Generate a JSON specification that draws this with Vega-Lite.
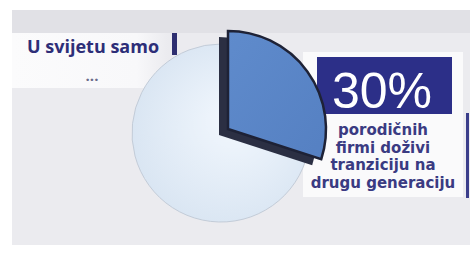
{
  "$schema": "https://vega.github.io/schema/vega-lite/v6.json",
  "width": 470,
  "height": 254,
  "padding": 0,
  "autosize": "none",
  "background": "#ffffff",
  "config": {"view": {"stroke": null}},
  "data": {"values": [
    {"part": "tranzicija na drugu generaciju", "share": 30},
    {"part": "ostale firme", "share": 70}
  ]},
  "layer": [
    {
      "data": {"values": [{}]},
      "mark": {"type": "rect", "color": "#ebebef"},
      "encoding": {"x": {"value": 12}, "x2": {"value": 470}, "y": {"value": 10}, "y2": {"value": 245}}
    },
    {
      "data": {"values": [{}]},
      "mark": {"type": "rect", "color": "#e1e1e6"},
      "encoding": {"x": {"value": 12}, "x2": {"value": 470}, "y": {"value": 10}, "y2": {"value": 33}}
    },
    {
      "data": {"values": [{}]},
      "mark": {"type": "rect", "color": {"gradient": "linear", "x1": 0, "y1": 0, "x2": 1, "y2": 0, "stops": [{"offset": 0, "color": "#fbfbfc"}, {"offset": 0.8, "color": "#f8f8fa"}, {"offset": 1, "color": "#ebebef"}]}},
      "encoding": {"x": {"value": 12}, "x2": {"value": 168}, "y": {"value": 33}, "y2": {"value": 88}}
    },
    {
      "data": {"values": [{}]},
      "mark": {"type": "rect", "color": "#fafafb"},
      "encoding": {"x": {"value": 303}, "x2": {"value": 463}, "y": {"value": 52}, "y2": {"value": 197}}
    },
    {
      "data": {"values": [{}]},
      "mark": {"type": "rect", "color": "#2c2f88"},
      "encoding": {"x": {"value": 317}, "x2": {"value": 452}, "y": {"value": 57}, "y2": {"value": 114}}
    },
    {
      "data": {"values": [{}]},
      "mark": {"type": "rect", "color": "#3a3d8a"},
      "encoding": {"x": {"value": 466}, "x2": {"value": 469}, "y": {"value": 113}, "y2": {"value": 198}}
    },
    {
      "data": {"values": [{}]},
      "mark": {"type": "rect", "color": "#2d2e70"},
      "encoding": {"x": {"value": 172}, "x2": {"value": 177}, "y": {"value": 33}, "y2": {"value": 55}}
    },
    {
      "mark": {"type": "arc", "x": 221, "y": 133, "radius": 89, "stroke": "#c3ccd8", "strokeWidth": 1,
        "color": {"gradient": "radial", "x1": 0.6, "y1": 0.4, "r1": 0, "x2": 0.55, "y2": 0.5, "r2": 0.62,
          "stops": [{"offset": 0, "color": "#f3f8fe"}, {"offset": 1, "color": "#d6e3f1"}]}},
      "encoding": {
        "theta": {"field": "share", "type": "quantitative", "stack": true},
        "order": {"field": "share", "sort": "ascending"},
        "opacity": {"condition": {"test": "datum.share === 70", "value": 1}, "value": 0}
      }
    },
    {
      "mark": {"type": "arc", "x": 219, "y": 135, "radius": 98, "color": "#2b2f43"},
      "encoding": {
        "theta": {"field": "share", "type": "quantitative", "stack": true},
        "order": {"field": "share", "sort": "ascending"},
        "opacity": {"condition": {"test": "datum.share === 30", "value": 1}, "value": 0}
      }
    },
    {
      "mark": {"type": "arc", "x": 228, "y": 129, "radius": 98, "stroke": "#1e2236", "strokeWidth": 2.5,
        "color": {"gradient": "linear", "x1": 0, "y1": 0, "x2": 1, "y2": 1,
          "stops": [{"offset": 0, "color": "#5f8bcc"}, {"offset": 1, "color": "#5580c2"}]}},
      "encoding": {
        "theta": {"field": "share", "type": "quantitative", "stack": true},
        "order": {"field": "share", "sort": "ascending"},
        "opacity": {"condition": {"test": "datum.share === 30", "value": 1}, "value": 0}
      }
    },
    {
      "data": {"values": [{}]},
      "mark": {"type": "text", "text": "U svijetu samo", "font": "Open Sans", "fontWeight": "bold", "fontSize": 18, "color": "#2d2e78", "align": "left", "baseline": "alphabetic", "x": 27, "y": 53},
      "encoding": {}
    },
    {
      "data": {"values": [{}]},
      "mark": {"type": "text", "text": "...", "font": "Open Sans", "fontWeight": "bold", "fontSize": 15, "color": "#6b6b8a", "align": "center", "baseline": "alphabetic", "x": 92, "y": 81},
      "encoding": {}
    },
    {
      "data": {"values": [{}]},
      "mark": {"type": "text", "text": "30%", "font": "Liberation Sans", "fontSize": 50, "color": "#ffffff", "align": "center", "baseline": "alphabetic", "x": 382, "y": 108},
      "encoding": {}
    },
    {
      "data": {"values": [{}]},
      "mark": {"type": "text", "text": ["porodičnih", "firmi doživi", "tranziciju na", "drugu generaciju"], "font": "DejaVu Sans", "fontWeight": "bold", "fontSize": 15, "lineHeight": 17.5, "color": "#3a3b82", "align": "center", "baseline": "alphabetic", "x": 383, "y": 135},
      "encoding": {}
    }
  ]
}
